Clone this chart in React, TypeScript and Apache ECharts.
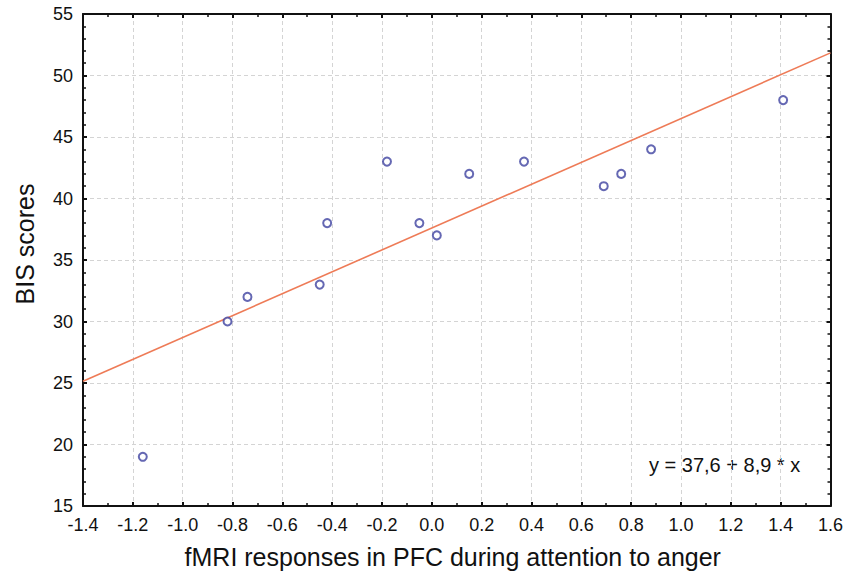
import React, { useEffect, useRef } from "react";
import * as echarts from "echarts";

const pfcResponse = [-1.16, -0.82, -0.74, -0.45, -0.42, -0.18, -0.05, 0.02, 0.15, 0.37, 0.69, 0.76, 0.88, 1.41];
const bisScores = [19, 30, 32, 33, 38, 43, 38, 37, 42, 43, 41, 42, 44, 48];
const intercept = 37.6;
const slope = 8.9;
const xRange = [-1.4, 1.6];
const yRange = [15, 55];
const equationLabel = "y = 37,6 + 8,9 * x";
const xTitle = "fMRI responses in PFC during attention to anger";
const yTitle = "BIS scores";

export default function App() {
  const ref = useRef<HTMLDivElement>(null);
  useEffect(() => {
    if (!ref.current) return;
    const chart = echarts.init(ref.current, null, { renderer: "svg" });
    const font = "'Liberation Sans', Arial, sans-serif";
    const points = pfcResponse.map((x, i) => [x, bisScores[i]]);
    const fit = xRange.map((x) => [x, intercept + slope * x]);
    const axisLine = { show: true, onZero: false, lineStyle: { color: "#111", width: 2 } };
    const tick = { show: true, inside: true, length: 4, lineStyle: { color: "#111", width: 2 } };
    const minor = { show: true, length: 3, lineStyle: { color: "#111", width: 1.5 } };
    const split = { show: true, lineStyle: { color: "#d4d4d4", type: [4, 3], width: 1 } };
    chart.setOption({
      animation: false,
      backgroundColor: "#fff",
      grid: { left: 83, right: 13, top: 14, bottom: 68 },
      xAxis: [
        {
          type: "value",
          min: xRange[0],
          max: xRange[1],
          interval: 0.2,
          position: "bottom",
          axisLine,
          axisTick: tick,
          minorTick: { ...minor, splitNumber: 2 },
          splitLine: split,
          axisLabel: {
            color: "#111",
            fontSize: 18,
            fontFamily: font,
            margin: 10,
            formatter: (v: number) => v.toFixed(1),
          },
          name: xTitle,
          nameLocation: "middle",
          nameGap: 38,
          nameTextStyle: { color: "#111", fontSize: 25, fontFamily: font, padding: [0, 8, 0, 0] },
        },
        {
          type: "value",
          min: xRange[0],
          max: xRange[1],
          interval: 0.2,
          position: "top",
          axisLine,
          axisTick: tick,
          minorTick: { ...minor, splitNumber: 2 },
          splitLine: { show: false },
          axisLabel: { show: false },
        },
      ],
      yAxis: [
        {
          type: "value",
          min: yRange[0],
          max: yRange[1],
          interval: 5,
          position: "left",
          axisLine,
          axisTick: tick,
          minorTick: { ...minor, splitNumber: 5 },
          splitLine: split,
          axisLabel: { color: "#111", fontSize: 18, fontFamily: font, margin: 10 },
        },
        {
          type: "value",
          min: yRange[0],
          max: yRange[1],
          interval: 5,
          position: "right",
          axisLine,
          axisTick: tick,
          minorTick: { ...minor, splitNumber: 5 },
          splitLine: { show: false },
          axisLabel: { show: false },
        },
      ],
      series: [
        {
          type: "line",
          data: fit,
          showSymbol: false,
          symbol: "none",
          lineStyle: { color: "#ee7b57", width: 1.6 },
          z: 2,
        },
        {
          type: "scatter",
          data: points,
          symbol: "circle",
          symbolSize: 8,
          itemStyle: { color: "#fff", borderColor: "#3e42a0", borderWidth: 2 },
          z: 3,
        },
      ],
      graphic: [
        {
          type: "text",
          left: 649,
          top: 455,
          style: { text: equationLabel, fill: "#111", fontSize: 20, fontFamily: font },
        },
        {
          type: "text",
          x: 25,
          y: 244,
          rotation: Math.PI / 2,
          style: {
            text: yTitle,
            fill: "#111",
            fontSize: 25,
            fontFamily: font,
            align: "center",
            verticalAlign: "middle",
          },
        },
      ],
    });
    return () => chart.dispose();
  }, []);
  return <div ref={ref} style={{ position: "fixed", left: 0, top: 0, width: 846, height: 574 }} />;
}
